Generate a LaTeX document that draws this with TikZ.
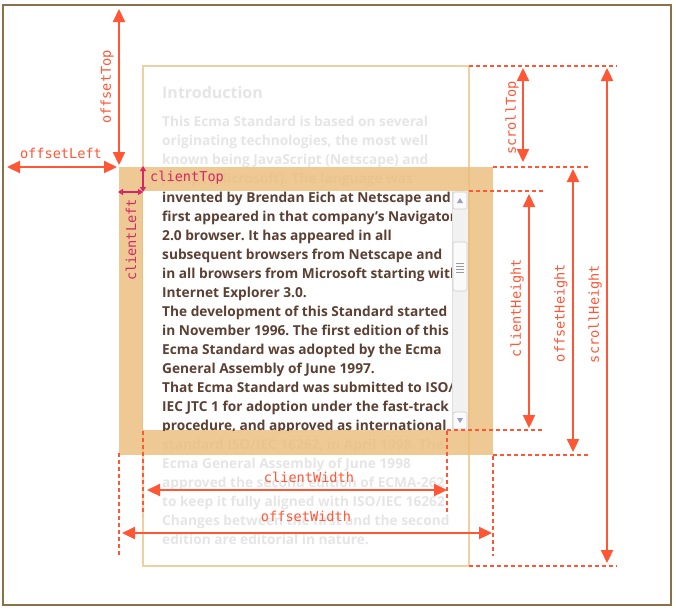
\documentclass[tikz,border=0pt]{standalone}
\usepackage{fontspec}
\setmainfont{Open Sans}
\newfontfamily\labelfont{DejaVu Sans Mono}
\usetikzlibrary{arrows.meta}
\definecolor{framebrown}{RGB}{140,112,74}
\definecolor{borderorange}{RGB}{234,188,121}
\definecolor{contentline}{RGB}{240,208,160}
\definecolor{measurered}{RGB}{255,86,54}
\definecolor{clientpink}{RGB}{212,40,104}
\definecolor{textdark}{RGB}{92,64,51}
\definecolor{textfaded}{RGB}{229,229,229}
\definecolor{bargray}{RGB}{241,241,241}
\frenchspacing

\begin{document}
\begin{tikzpicture}[x=1pt,y=-1pt,
  dim/.style={measurered,line width=2.2pt,
    {Triangle[width=12pt,length=13pt]}-{Triangle[width=12pt,length=13pt]}},
  smalldim/.style={clientpink,line width=1.6pt,
    {Triangle[width=6pt,length=5pt]}-{Triangle[width=6pt,length=5pt]}},
  guide/.style={measurered,line width=1.5pt,dash pattern=on 4pt off 3pt},
  dimlabel/.style={text=measurered,inner sep=0pt,
    font=\labelfont\fontsize{13.6pt}{16pt}\selectfont},
  bodyline/.style={anchor=base west,inner sep=0pt,
    font=\bfseries\fontsize{13.7pt}{19pt}\selectfont},
  barbutton/.style={fill=white!96!gray,draw=gray!40,line width=0.6pt,rounded corners=2pt}]
  \useasboundingbox (0,0) rectangle (676,611);

  % Frame.
  \draw[framebrown,line width=2pt] (3,5) rectangle (671,605);

  % Faded text outside the visible area.
  \node[bodyline,text=textfaded,font=\bfseries\fontsize{16pt}{19pt}\selectfont]
    (heading) at (162,98) {Introduction};
  \foreach \n/\txt in {1/{This Ecma Standard is based on several},
      2/{originating technologies, the most well},
      3/{known being JavaScript (Netscape) and},
      4/{JScript (Microsoft). The language was},
      18/{standard ISO/IEC 16262, in April 1998. The},
      19/{Ecma General Assembly of June 1998},
      20/{approved the second edition of ECMA-262},
      21/{to keep it fully aligned with ISO/IEC 16262.},
      22/{Changes between the first and the second},
      23/{edition are editorial in nature.}}{
    \node[bodyline,text=textfaded] (line\n) at (162,126+19*\n-19) {\txt};
  }

  % Scrolled content outline.
  \draw[contentline,line width=2pt] (143,66) rectangle (469,566);

  % Border and client area.
  \fill[borderorange,opacity=0.8] (119,167) rectangle (493,455);
  \fill[white] (143,191) rectangle (468,430);
  \begin{scope}
    \clip (143,191) rectangle (453,430);
    \foreach \n/\txt in {5/{invented by Brendan Eich at Netscape and},
        6/{first appeared in that company’s Navigator},
        7/{2.0 browser. It has appeared in all},
        8/{subsequent browsers from Netscape and},
        9/{in all browsers from Microsoft starting with},
        10/{Internet Explorer 3.0.},
        11/{The development of this Standard started},
        12/{in November 1996. The first edition of this},
        13/{Ecma Standard was adopted by the Ecma},
        14/{General Assembly of June 1997.},
        15/{That Ecma Standard was submitted to ISO/},
        16/{IEC JTC 1 for adoption under the fast-track},
        17/{procedure, and approved as international}}{
      \node[bodyline,text=textdark] (line\n) at (162,126+19*\n-19) {\txt};
    }
  \end{scope}

  % Scrollbar.
  \fill[bargray] (452,191) rectangle (468,430);
  \draw[gray!25,line width=0.6pt] (452,191) -- (452,430);
  \draw[barbutton] (453,192) rectangle (467,209);
  \fill[gray!70!blue!60] (457,203) -- (463,203) -- (460,198) -- cycle;
  \draw[barbutton] (453,242) rectangle (467,291);
  \foreach \yy in {263,266,269,272}{
    \draw[gray!80,line width=1pt] (456,\yy) -- (464,\yy);
  }
  \draw[barbutton] (453,412) rectangle (467,429);
  \fill[gray!70!blue!60] (457,418) -- (463,418) -- (460,423) -- cycle;

  % Guide lines.
  \draw[guide] (469,66) -- (617,66);
  \draw[guide] (493,167) -- (588,167);
  \draw[guide] (469,191) -- (543,191);
  \draw[guide] (447,430) -- (543,430);
  \draw[guide] (493,455) -- (588,455);
  \draw[guide] (469,566) -- (617,566);
  \draw[guide] (143,431) -- (143,515);
  \draw[guide] (447,431) -- (447,515);
  \draw[guide] (119,453) -- (119,556);
  \draw[guide] (493,456) -- (493,556);

  % End points of the measures.
  \coordinate (offTopA) at (119,9);
  \coordinate (offTopB) at (119,165);
  \coordinate (offLeftA) at (7,167);
  \coordinate (offLeftB) at (117,167);
  \coordinate (scrTopA) at (523,68);
  \coordinate (scrTopB) at (523,162);
  \coordinate (cliHA) at (529,194);
  \coordinate (cliHB) at (529,428);
  \coordinate (offHA) at (573,169);
  \coordinate (offHB) at (573,452);
  \coordinate (scrHA) at (607,68);
  \coordinate (scrHB) at (607,563);
  \coordinate (cliWA) at (147,490);
  \coordinate (cliWB) at (447,490);
  \coordinate (offWA) at (122,533);
  \coordinate (offWB) at (492,533);
  \coordinate (cliTopA) at (143,166);
  \coordinate (cliTopB) at (143,192);
  \coordinate (cliLeftA) at (118,192);

  \draw[dim] (offTopA) -- (offTopB);
  \draw[dim] (offLeftA) -- (offLeftB);
  \draw[dim] (scrTopA) -- (scrTopB);
  \draw[dim] (cliHA) -- (cliHB);
  \draw[dim] (offHA) -- (offHB);
  \draw[dim] (scrHA) -- (scrHB);
  \draw[dim] (cliWA) -- (cliWB);
  \draw[dim] (offWA) -- (offWB);
  \draw[smalldim] (cliTopA) -- (cliTopB);
  \draw[smalldim] (cliLeftA) -- (cliTopB);

  % Labels.
  \node[dimlabel,rotate=90] (offTopLab) at (107,87) {offsetTop};
  \node[dimlabel] (offLeftLab) at (61,153) {offsetLeft};
  \node[dimlabel,rotate=90] (scrTopLab) at (512,118) {scrollTop};
  \node[dimlabel,rotate=90] (cliHLab) at (517,308) {clientHeight};
  \node[dimlabel,rotate=90] (offHLab) at (561,313) {offsetHeight};
  \node[dimlabel,rotate=90] (scrHLab) at (595,314) {scrollHeight};
  \node[dimlabel] (cliWLab) at (309,477) {clientWidth};
  \node[dimlabel] (offWLab) at (306,516) {offsetWidth};
  \node[dimlabel,text=clientpink,anchor=west] (cliTopLab) at (150,178) {clientTop};
  \node[dimlabel,text=clientpink,rotate=90] (cliLeftLab) at (131,240) {clientLeft};
\end{tikzpicture}
\end{document}
